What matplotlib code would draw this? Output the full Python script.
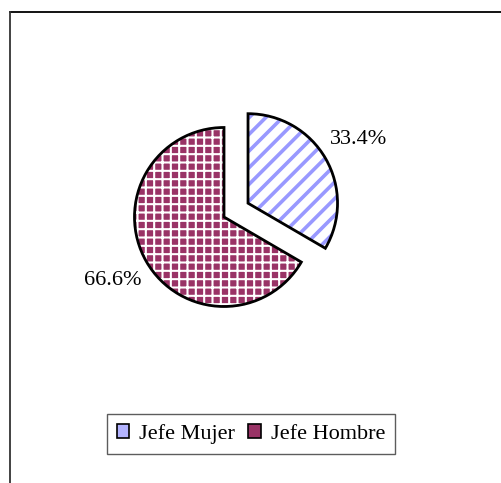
import matplotlib.pyplot as plt
from matplotlib.lines import Line2D
from matplotlib.patches import Patch

# data
labels = ['Jefe Mujer', 'Jefe Hombre']
shares = [33.4, 66.6]
explode = [27.7, 0.0]   # pie explode is in data units (pixels here)

plt.rcParams['font.family'] = ['Liberation Serif', 'DejaVu Serif']
plt.rcParams['hatch.linewidth'] = 2.0

W, H = 501, 483
fig = plt.figure(figsize=(W / 100, H / 100), dpi=100)
ax = fig.add_axes([0, 0, 1, 1])

center = (224, H - 217)
radius = 89.5

# filled + hatched wedges
wedges, _ = ax.pie(shares, explode=explode, startangle=90, counterclock=False,
                   center=center, radius=radius,
                   wedgeprops=dict(linewidth=0))
wedges[0].set_facecolor('white')
wedges[0].set_edgecolor('#9999ff')
wedges[0].set_hatch('//')
wedges[1].set_facecolor('#993366')
wedges[1].set_edgecolor('white')
wedges[1].set_hatch('++')
if hasattr(wedges[0], 'set_hatch_linewidth'):
    wedges[0].set_hatch_linewidth(2.6)
    wedges[1].set_hatch_linewidth(1.5)

# black outlines and percentage labels
_, _, pct = ax.pie(shares, explode=explode, startangle=90, counterclock=False,
                   center=center, radius=radius, autopct='%1.1f%%', pctdistance=1.43,
                   textprops=dict(fontsize=16, color='black'),
                   wedgeprops=dict(fill=False, edgecolor='black', linewidth=2.0))

ax.set_xlim(0, W)
ax.set_ylim(0, H)
ax.set_aspect('equal')
ax.axis('off')

handles = [Patch(facecolor='#b3b3ff', edgecolor='black', linewidth=1.2),
           Patch(facecolor='#993366', edgecolor='black', linewidth=1.2)]
leg = fig.legend(handles, labels, loc='center', bbox_to_anchor=(251 / W, 1 - 434 / H),
                 ncol=2, fontsize=16, frameon=True, fancybox=False, shadow=False,
                 handlelength=0.55, handleheight=0.55, handletextpad=0.45,
                 columnspacing=0.6, borderpad=0.45, borderaxespad=0)
leg.get_frame().set_edgecolor('#333333')
leg.get_frame().set_linewidth(1.0)

# chart area border (top and left visible)
fig.add_artist(Line2D([10 / W, 1], [1 - 12 / H, 1 - 12 / H], transform=fig.transFigure,
                      color='black', linewidth=1.3))
fig.add_artist(Line2D([10 / W, 10 / W], [0, 1 - 12 / H], transform=fig.transFigure,
                      color='#333333', linewidth=1.3))

fig.savefig('out.png', dpi=100)
